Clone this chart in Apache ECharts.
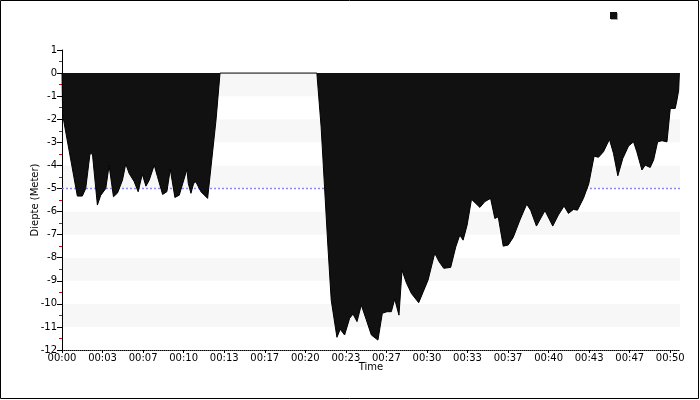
<!DOCTYPE html>
<html>
<head>
<meta charset="utf-8">
<script src="https://cdn.jsdelivr.net/npm/echarts@6/dist/echarts.min.js"></script>
<style>
html,body{margin:0;padding:0;background:#fff;}
#chart{width:700px;height:400px;}
</style>
</head>
<body>
<div id="chart"></div>
<script>
// Dive time in minutes
var times = [
  0, 0.05, 1.26, 1.67, 1.95, 2.3, 2.5, 2.91, 3.18, 3.6,
  3.87, 4.23, 4.56, 4.97, 5.24, 5.52, 5.93, 6.26, 6.6, 6.9,
  7.17, 7.58, 7.85, 8.27, 8.62, 8.9, 9.28, 9.64, 10.27, 10.38,
  10.6, 10.82, 11.0, 11.42, 11.97, 12.25, 12.66, 12.99, 20.95, 21.3,
  21.58, 21.86, 22.13, 22.6, 22.87, 23.23, 23.64, 23.92, 24.25, 24.6,
  25.0, 25.43, 25.97, 26.33, 26.71, 27.07, 27.35, 27.7, 27.95, 28.3,
  28.72, 29.32, 30.09, 30.64, 30.99, 31.38, 31.95, 32.37, 32.7, 32.97,
  33.3, 33.66, 34.35, 34.76, 35.23, 35.58, 35.86, 36.27, 36.68, 37.09,
  37.64, 38.2, 38.52, 39.0, 39.7, 40.34, 40.8, 41.27, 41.63, 42.04,
  42.37, 42.86, 43.3, 43.74, 44.1, 44.51, 45.0, 45.33, 45.69, 46.1,
  46.57, 46.98, 47.25, 47.67, 47.94, 48.35, 48.63, 48.96, 49.32, 49.73,
  50.0, 50.41, 50.55, 50.69, 50.75
];
// Depth in meters (negative = below surface)
var depths = [
  0, -1.8, -5.33, -5.33, -5.0, -3.5, -3.5, -5.72, -5.3, -5.0,
  -4.0, -5.36, -5.2, -4.64, -3.94, -4.35, -4.7, -5.14, -4.38, -4.9,
  -4.64, -3.99, -4.49, -5.26, -5.14, -4.17, -5.39, -5.29, -4.17, -4.78,
  -5.21, -4.78, -4.71, -5.14, -5.43, -4.06, -2.04, 0, 0, -2.33,
  -4.93, -7.53, -9.84, -11.45, -11.1, -11.35, -10.63, -10.44, -10.77, -10.05,
  -10.67, -11.35, -11.57, -10.41, -10.34, -10.34, -9.8, -10.49, -8.54, -9.08,
  -9.55, -9.95, -8.97, -7.81, -8.17, -8.46, -8.42, -7.53, -7.02, -7.24,
  -6.59, -5.47, -5.82, -5.57, -5.43, -6.3, -6.23, -7.5, -7.45, -7.12,
  -6.37, -5.68, -5.94, -6.63, -5.96, -6.63, -6.15, -5.76, -6.08, -5.91,
  -5.94, -5.43, -4.8, -3.6, -3.65, -3.41, -2.87, -3.48, -4.45, -3.7,
  -3.16, -2.98, -3.41, -4.2, -3.99, -4.09, -3.77, -2.98, -2.93, -2.98,
  -1.53, -1.53, -1.17, -0.74, 0
];
// Reference line (safety depth)
var refTimes = [0, 50.8];
var refDepth = -5;
// X tick positions (minutes)
var xTicks = [0, 10/3, 20/3, 10, 40/3, 50/3, 20, 70/3, 80/3, 30, 100/3, 110/3, 40, 130/3, 140/3, 50];
var xMin = 0, xMax = 50.8;
var yMin = -12, yMax = 1;

var profile = times.map(function (t, i) { return [t, depths[i]]; });
var refLine = refTimes.map(function (t) { return [t, refDepth]; });

function fmtTime(v) {
  var m = Math.round(v);
  var h = Math.floor(m / 60);
  m = m % 60;
  return (h < 10 ? '0' : '') + h + ':' + (m < 10 ? '0' : '') + m;
}

var chart = echarts.init(document.getElementById('chart'), null, {renderer: 'canvas'});
var font = 'DejaVu Sans';
chart.setOption({
  animation: false,
  backgroundColor: '#fff',
  textStyle: {fontFamily: font},
  grid: {left: 62, right: 20, top: 50, bottom: 50, containLabel: false},
  legend: {
    left: 610, top: 12,
    padding: 0,
    itemGap: 0,
    itemWidth: 7, itemHeight: 7,
    icon: 'rect',
    data: ['Diepte'],
    formatter: function () { return ''; },
    itemStyle: {color: '#111', shadowColor: '#aaa', shadowOffsetX: 1, shadowOffsetY: 1}
  },
  xAxis: {
    type: 'value',
    min: xMin, max: xMax,
    name: 'Time',
    nameLocation: 'middle',
    nameGap: 12,
    nameMoveOverlap: false,
    nameTextStyle: {color: '#000', fontSize: 10, fontFamily: font},
    axisLine: {show: true, onZero: false, lineStyle: {color: '#000', type: 'dotted', width: 1}},
    axisTick: {show: true, length: 3, customValues: xTicks, lineStyle: {color: '#000'}},
    axisLabel: {
      customValues: xTicks,
      margin: 3,
      color: '#000', fontSize: 10, fontFamily: font,
      formatter: fmtTime
    },
    splitLine: {show: false},
    splitArea: {show: false}
  },
  yAxis: {
    type: 'value',
    min: yMin, max: yMax, interval: 1,
    name: 'Diepte (Meter)',
    nameLocation: 'middle',
    nameGap: 22,
    nameMoveOverlap: false,
    nameTextStyle: {color: '#000', fontSize: 10, fontFamily: font},
    axisLine: {show: true, onZero: false, lineStyle: {color: '#000', width: 1}},
    axisTick: {show: true, length: 5, lineStyle: {color: '#000'}},
    minorTick: {show: true, splitNumber: 2, length: 3, lineStyle: {color: '#e00000'}},
    axisLabel: {margin: 5, color: '#000', fontSize: 10, fontFamily: font},
    splitLine: {show: false},
    minorSplitLine: {show: false},
    splitArea: {show: true, areaStyle: {color: ['#ffffff', '#f7f7f7']}}
  },
  series: [
    {
      name: 'ref',
      type: 'line',
      data: refLine,
      symbol: 'none',
      silent: true,
      z: 1,
      lineStyle: {color: '#8a8aff', width: 1.5, type: [2, 2]}
    },
    {
      name: 'Diepte',
      type: 'line',
      data: profile,
      symbol: 'none',
      z: 3,
      itemStyle: {color: '#111'},
      lineStyle: {color: '#000', width: 1},
      areaStyle: {color: '#111', opacity: 1}
    }
  ],
  graphic: [{
    type: 'rect',
    shape: {x: 0.5, y: 0.5, width: 698, height: 398},
    style: {fill: 'none', stroke: '#000', lineWidth: 1},
    z: 100, silent: true
  }]
});
</script>
</body>
</html>
